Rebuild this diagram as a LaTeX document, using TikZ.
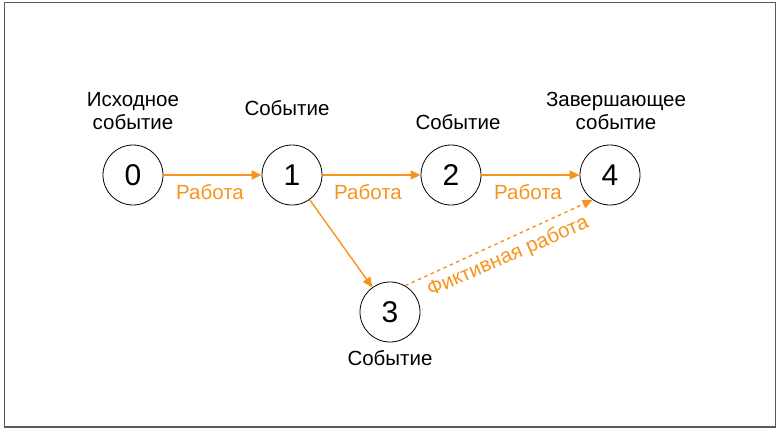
\documentclass[tikz,border=0pt]{standalone}
\usepackage{fontspec}
\setmainfont{Liberation Sans}
\usetikzlibrary{arrows.meta}
\definecolor{org}{RGB}{247,148,30}
\begin{document}
\begin{tikzpicture}[x=1pt,y=-1pt,
  ev/.style={circle,draw=black,line width=0.8pt,minimum size=60pt,inner sep=0pt,font=\fontsize{30}{32}\selectfont},
  lbl/.style={font=\fontsize{20.5}{23}\selectfont,align=center,text=black},
  wlbl/.style={font=\fontsize{20.5}{23}\selectfont,text=org},
  work/.style={draw=org,line width=1.4pt,-{Triangle[length=10pt,width=9pt]}}]
\useasboundingbox (0,0) rectangle (779,434);
\draw[gray!70!black,line width=1.2pt] (4.5,2.5) rectangle (775.5,427);
\node[ev] (n0) at (133,175) {0};
\node[ev] (n1) at (292,175) {1};
\node[ev] (n2) at (451,175) {2};
\node[ev] (n4) at (610,175) {4};
\node[ev] (n3) at (390,312) {3};
\node[lbl] (l0) at (133,111) {Исходное\\событие};
\node[lbl] (l1) at (287,108) {Событие};
\node[lbl] (l2) at (458,122) {Событие};
\node[lbl] (l4) at (616,111) {Завершающее\\событие};
\node[lbl] (l3) at (390,358) {Событие};
\draw[work] (n0) -- (n1);
\draw[work] (n1) -- (n2);
\draw[work] (n2) -- (n4);
\draw[work] (n1) -- (n3);
\draw[work,dash pattern=on 3.5pt off 3.5pt] (n3.60) -- (n4.235);
\node[wlbl] (w1) at (210,192) {Работа};
\node[wlbl] (w2) at (368,192) {Работа};
\node[wlbl] (w3) at (528,192) {Работа};
\node[wlbl,rotate=23.5] (w4) at (508,257) {Фиктивная работа};
\end{tikzpicture}
\end{document}
